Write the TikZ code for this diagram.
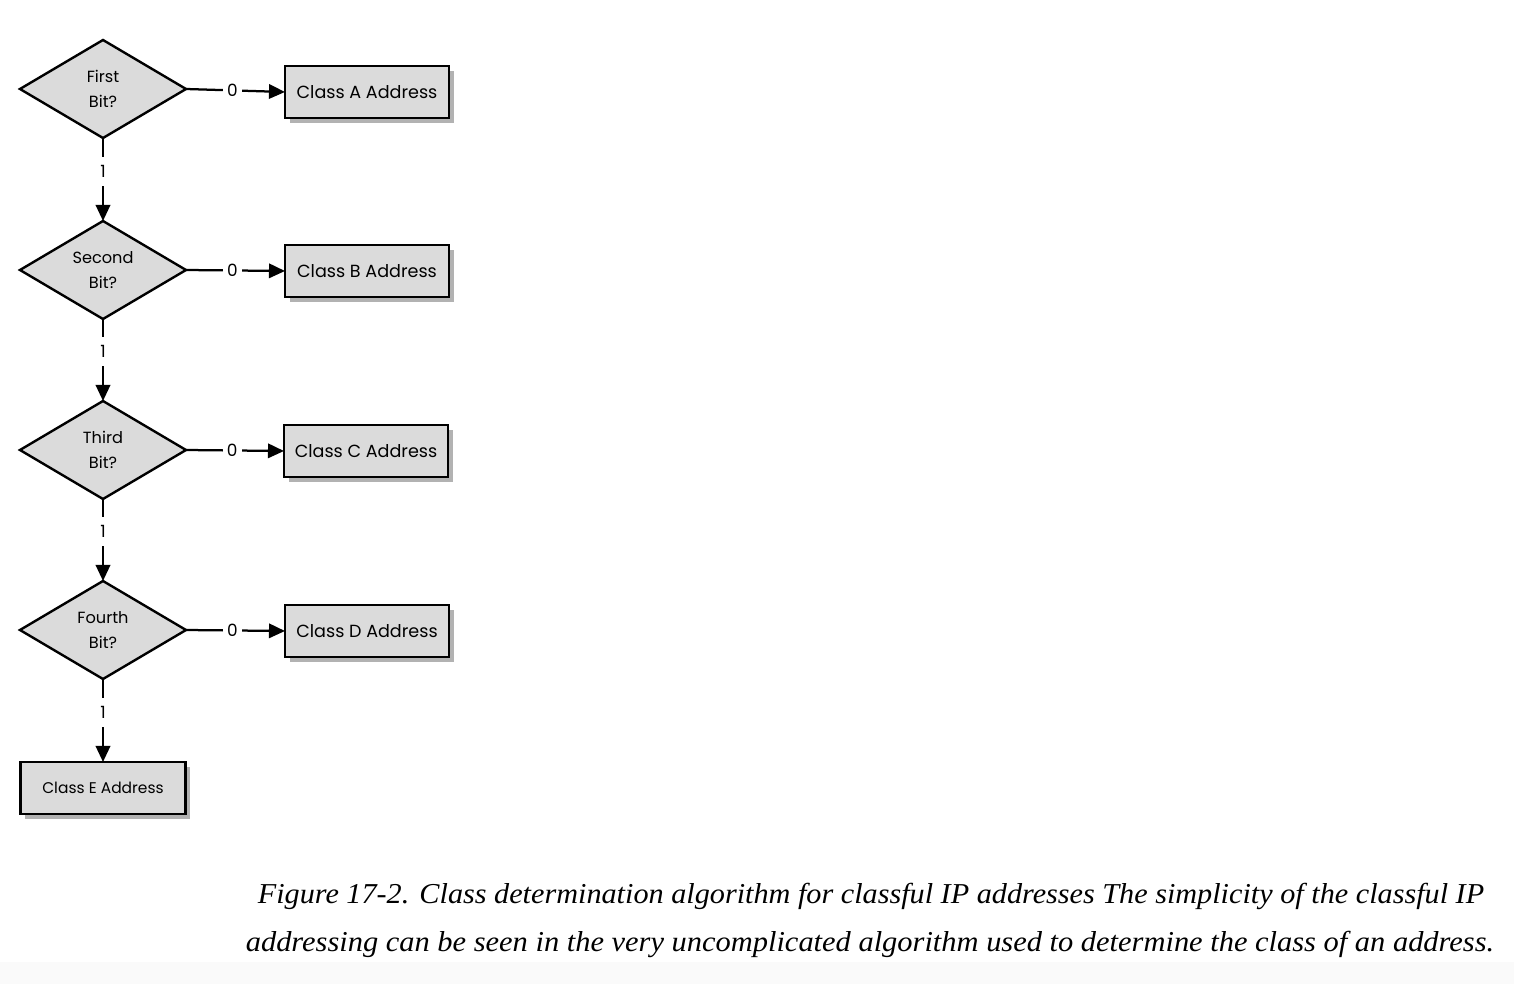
\documentclass[tikz,border=0pt]{standalone}
\usepackage{fontspec}
\setmainfont{Liberation Serif}
\newfontfamily\flowfont{Poppins}
\usetikzlibrary{shapes.geometric,arrows.meta,shadows}
\tikzset{
  decision/.style={diamond, draw=black, line width=1.7pt, fill=black!14, minimum width=4.15cm, minimum height=2.45cm, inner sep=0pt, outer sep=0pt, align=center, font=\flowfont\fontsize{11.5}{17.5}\selectfont},
  outcome/.style={rectangle, draw=black, line width=1.7pt, fill=black!14, minimum width=4.1cm, minimum height=1.3cm, inner sep=0pt, outer sep=0pt, font=\flowfont\fontsize{12.5}{14}\selectfont, drop shadow={shadow xshift=0.12cm, shadow yshift=-0.12cm, fill=black!30, opacity=1}},
  flow/.style={line width=1.6pt, -{Triangle[length=0.4cm, width=0.36cm]}},
  bitlabel/.style={fill=white, inner sep=3pt, font=\flowfont\fontsize{12}{13}\selectfont},
  caption/.style={font=\itshape\fontsize{20.5}{24}\selectfont, inner sep=0pt}
}
\begin{document}
\begin{tikzpicture}[x=0.025cm, y=-0.025cm]
\useasboundingbox (0,0) rectangle (1514,984);
\fill[white] (0,0) rectangle (1514,984);
\fill[black!2] (0,962) rectangle (1514,984);

\node[decision] (d1) at (103,89) {First\\Bit?};
\node[decision] (d2) at (103,270) {Second\\Bit?};
\node[decision] (d3) at (103,450) {Third\\Bit?};
\node[decision] (d4) at (103,630) {Fourth\\Bit?};

\node[outcome] (a) at (367,92) {Class A Address};
\node[outcome] (b) at (367,271) {Class B Address};
\node[outcome] (c) at (366,451) {Class C Address};
\node[outcome] (dd) at (367,631) {Class D Address};
\node[outcome, minimum width=4.125cm, font=\flowfont\fontsize{11}{13}\selectfont] (e) at (103,788) {Class E Address};

\draw[flow] (d1.east) -- node[bitlabel, pos=0.47] {0} (a.west);
\draw[flow] (d2.east) -- node[bitlabel, pos=0.47] {0} (b.west);
\draw[flow] (d3.east) -- node[bitlabel, pos=0.47] {0} (c.west);
\draw[flow] (d4.east) -- node[bitlabel, pos=0.47] {0} (dd.west);

\draw[flow] (d1.south) -- node[bitlabel, inner sep=6pt, pos=0.4] {1} (d2.north);
\draw[flow] (d2.south) -- node[bitlabel, inner sep=6pt, pos=0.4] {1} (d3.north);
\draw[flow] (d3.south) -- node[bitlabel, inner sep=6pt, pos=0.4] {1} (d4.north);
\draw[flow] (d4.south) -- node[bitlabel, inner sep=6pt, pos=0.4] {1} (e.north);

\node[caption] (cap1) at (871,896) {\resizebox{30.65cm}{\height}{Figure 17-2. Class determination algorithm for classful IP addresses The simplicity of the classful IP}};
\node[caption] (cap2) at (870,944) {\resizebox{31.2cm}{\height}{addressing can be seen in the very uncomplicated algorithm used to determine the class of an address.}};
\end{tikzpicture}
\end{document}
